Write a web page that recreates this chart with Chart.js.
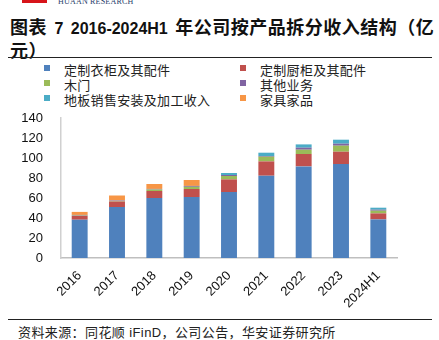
<!DOCTYPE html>
<html>
<head>
<meta charset="utf-8">
<script src="https://cdn.jsdelivr.net/npm/chart.js@4"></script>
<style>
  body { margin: 0; width: 439px; height: 340px; background: #fff; position: relative; overflow: hidden;
         font-family: "Liberation Sans", "Noto Sans CJK SC", sans-serif; color: #222; }
  #logo { position: absolute; left: 22px; top: 0; width: 25px; height: 3px; background: #d7141a; }
  #brand { position: absolute; left: 58px; top: -3px; font: 8px "Liberation Serif", serif; color: #1f3d6b; letter-spacing: 0.2px; }
  #title { position: absolute; left: 10px; top: 16px; width: 429px; font-size: 18px; font-weight: bold;
           line-height: 21px; color: #111; }
  #title .cjk { font-family: "Noto Sans CJK SC", sans-serif; letter-spacing: 0.5px; }
  #title .lat { font-family: "Liberation Sans", sans-serif; font-size: 16px; word-spacing: 3px; }
  .rule { position: absolute; left: 8px; width: 424px; height: 1px; background: #222; }
  #legend { position: absolute; left: 0; top: 60px; width: 439px; font-size: 13px; color: #222; }
  .item { position: absolute; white-space: nowrap; letter-spacing: 0.3px; }
  .item i { position: absolute; left: -20px; top: 5px; width: 6px; height: 6px; }
  #wrap { position: absolute; left: 0; top: 100px; width: 439px; height: 210px; }
  #source { position: absolute; left: 18px; top: 322px; font-size: 13px; color: #222; letter-spacing: 0.4px; }
</style>
</head>
<body>
<div id="logo"></div>
<div id="brand">HUAAN RESEARCH</div>
<div id="title"><span class="cjk">图表</span><span class="lat"> 7 2016-2024H1 </span><span class="cjk">年公司按产品拆分收入结构（亿元）</span></div>
<div class="rule" style="top:57px"></div>
<div id="legend"></div>
<div id="wrap"><canvas id="chart"></canvas></div>
<div class="rule" style="top:319px"></div>
<div id="source">资料来源：同花顺 iFinD，公司公告，华安证券研究所</div>

<script>
// Categories and series (亿元)
const years = ['2016', '2017', '2018', '2019', '2020', '2021', '2022', '2023', '2024H1'];
const seriesNames = ['定制衣柜及其配件', '定制厨柜及其配件', '木门', '其他业务', '地板销售安装及加工收入', '家具家品'];
const seriesColors = ['#4F81BD', '#C0504D', '#9BBB59', '#8064A2', '#4BACC6', '#F79646'];

const wardrobe = [38.3, 51, 60, 61, 66, 82.3, 91.6, 94, 38.6];
const cabinet  = [3.8, 5.5, 7, 8, 12.6, 14.3, 12.4, 12.3, 6];
const doors    = [0.4, 0.6, 1.5, 2.2, 3.4, 4.7, 4.3, 6, 2.7];
const other    = [0.6, 0.5, 0.6, 0.9, 1, 0.7, 2, 2, 1];
const flooring = [0, 0, 0, 0, 2, 3.3, 3.3, 4, 2];
const homeGoods = [3, 4.9, 4.9, 5.9, 0, 0, 0, 0, 0];

const yTicks = [0, 20, 40, 60, 80, 100, 120, 140];

const seriesData = [wardrobe, cabinet, doors, other, flooring, homeGoods];

// Legend (two columns)
const legend = document.getElementById('legend');
seriesNames.forEach(function (name, i) {
    const div = document.createElement('div');
    div.className = 'item';
    div.style.left = (i % 2 === 0 ? 64 : 260) + 'px';
    div.style.top = (Math.floor(i / 2) * 15) + 'px';
    div.innerHTML = '<i style="background:' + seriesColors[i] + '"></i>' + name;
    legend.appendChild(div);
});

const ctx = document.getElementById('chart').getContext('2d');
new Chart(ctx, {
    type: 'bar',
    data: {
        labels: years,
        datasets: seriesNames.map(function (name, i) {
            return {
                label: name,
                data: seriesData[i],
                backgroundColor: seriesColors[i],
                borderWidth: 0,
                barPercentage: 0.9,
                categoryPercentage: 0.474
            };
        })
    },
    options: {
        responsive: true,
        maintainAspectRatio: false,
        animation: false,
        layout: { padding: { top: 18, right: 42, left: 0, bottom: 0 } },
        plugins: {
            legend: { display: false },
            tooltip: { enabled: false }
        },
        scales: {
            x: {
                stacked: true,
                grid: { display: false },
                border: { color: '#bfbfbf', width: 1.5 },
                ticks: {
                    color: '#111',
                    font: { family: 'Liberation Sans', size: 13 },
                    minRotation: 45,
                    maxRotation: 45,
                    padding: 2
                },
                afterFit: function (scale) { scale.height = 52; }
            },
            y: {
                stacked: true,
                min: 0,
                max: 140,
                afterBuildTicks: function (scale) {
                    scale.ticks = yTicks.map(function (v) { return { value: v }; });
                },
                grid: { display: false },
                border: { color: '#d0d0d0', width: 1.5 },
                ticks: {
                    color: '#111',
                    font: { family: 'Liberation Sans', size: 13 },
                    padding: 10
                },
                afterFit: function (scale) { scale.width = 61; }
            }
        }
    }
});
</script>
</body>
</html>
